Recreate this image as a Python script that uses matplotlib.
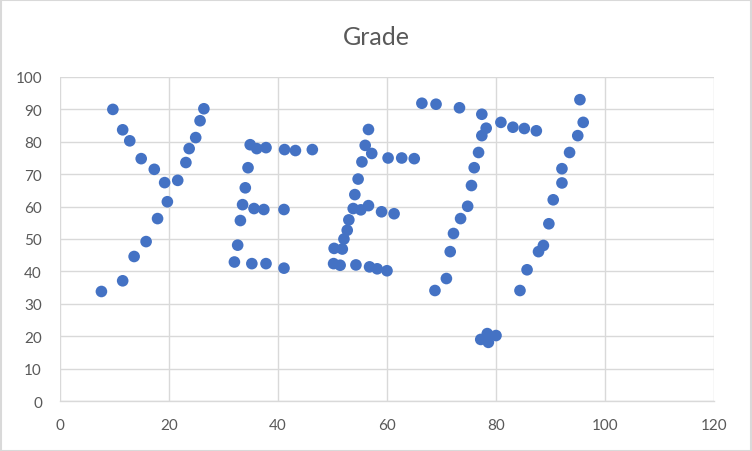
import matplotlib
matplotlib.use('Agg')
import matplotlib.pyplot as plt
from matplotlib.patches import Rectangle

# scatter points (x, grade)
x_vals = [7.6, 11.5, 13.6, 15.8, 17.9, 19.7, 19.2, 17.3, 14.9, 12.8, 11.5, 9.7,
          21.6, 23.1, 23.7, 24.9, 25.7, 26.4,
          34.9, 36.1, 37.8, 41.2, 43.2, 46.3, 34.5, 34.0, 33.5, 35.6, 37.4, 41.1,
          33.1, 32.6, 32.0, 35.2, 37.8, 41.1,
          56.6, 56.0, 57.2, 60.2, 62.7, 65.0, 55.4, 54.7, 54.1, 53.8, 55.2, 56.6,
          59.0, 61.3, 53.0, 52.7, 52.1, 50.3, 51.8, 50.2, 51.4, 54.3, 56.8, 58.2, 60.0,
          66.4, 69.0, 73.3, 77.4, 78.2, 77.4, 76.8, 76.0, 75.5, 74.8, 73.5, 72.2,
          71.6, 70.9, 68.8, 77.2, 78.4, 78.6, 80.0,
          80.9, 83.1, 85.2, 87.4, 95.4, 96.0, 95.0, 93.5, 92.1, 92.1, 90.5, 89.7,
          88.7, 87.8, 85.7, 84.4]
grade = [33.8, 37.1, 44.6, 49.2, 56.3, 61.5, 67.4, 71.5, 74.8, 80.3, 83.7, 90.0,
         68.1, 73.6, 77.9, 81.3, 86.5, 90.2,
         79.1, 77.9, 78.2, 77.6, 77.3, 77.6, 72.0, 65.8, 60.6, 59.4, 59.1, 59.1,
         55.7, 48.1, 42.9, 42.4, 42.4, 41.0,
         83.8, 78.9, 76.4, 75.0, 75.0, 74.8, 73.8, 68.5, 63.7, 59.4, 59.0, 60.3,
         58.4, 57.8, 55.9, 52.7, 50.0, 47.1, 46.9, 42.4, 41.9, 42.0, 41.4, 40.8, 40.2,
         91.9, 91.6, 90.5, 88.5, 84.2, 81.9, 76.7, 72.0, 66.5, 60.1, 56.3, 51.7,
         46.1, 37.8, 34.1, 19.0, 20.8, 18.1, 20.2,
         86.0, 84.5, 84.1, 83.4, 93.0, 86.0, 81.9, 76.7, 71.7, 67.3, 62.1, 54.7,
         48.0, 46.1, 40.5, 34.1]

x_ticks = [0, 20, 40, 60, 80, 100, 120]
y_ticks = [0, 10, 20, 30, 40, 50, 60, 70, 80, 90, 100]

plt.rcParams['font.family'] = ['Lato', 'DejaVu Sans']

fig = plt.figure(figsize=(7.52, 4.52), dpi=100)
fig.patches.append(Rectangle((0.0007, 0.001), 0.9986, 0.9978, transform=fig.transFigure,
                             fill=False, edgecolor='#d9d9d9', linewidth=1.5))
ax = fig.add_axes([60 / 752, 1 - 402 / 452, 654 / 752, 324 / 452])

ax.scatter(x_vals, grade, s=70, color='#4472c4', edgecolors='none', zorder=3)

ax.set_xlim(0, 120)
ax.set_ylim(0, 100)
ax.set_xticks(x_ticks)
ax.set_yticks(y_ticks)
ax.grid(True, color='#d9d9d9', linewidth=1.0, zorder=0)
ax.set_axisbelow(True)
for side in ['top', 'right', 'left']:
    ax.spines[side].set_visible(False)
ax.spines['bottom'].set_color('#d9d9d9')
ax.spines['bottom'].set_linewidth(1.0)
ax.tick_params(axis='both', length=0, labelsize=11, labelcolor='#595959')
ax.tick_params(axis='x', pad=12)
ax.tick_params(axis='y', pad=13)

fig.text(0.5, 1 - 45 / 452, 'Grade', ha='center', va='baseline', fontsize=18, color='#595959')

fig.savefig('out.png', dpi=100)
